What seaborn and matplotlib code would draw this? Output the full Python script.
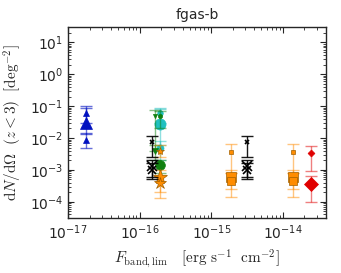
import numpy as np
import matplotlib
matplotlib.use("Agg")
import matplotlib.pyplot as plt
import seaborn as sns

sns.set_style("ticks")
plt.rcParams['font.family'] = ['DejaVu Sans']
plt.rcParams['mathtext.fontset'] = 'dejavusans'

blue_x = [1.8e-17, 1.8e-17, 1.8e-17]
blue_y = [0.06, 0.03, 0.009]
blue_lo = [0.03, 0.013, 0.005]
blue_hi = [0.1, 0.09, 0.014]
blue_s = [4, 8, 4]

cyan_x = [1.9e-16, 1.9e-16, 1.9e-16]
cyan_y = [0.06, 0.027, 0.005]
cyan_lo = [0.03, 0.006, 0.002]
cyan_hi = [0.09, 0.08, 0.008]
cyan_s = [4, 8, 5]

green_tri_x = [1.65e-16, 1.65e-16]
green_tri_y = [0.05, 0.004]
green_tri_lo = [0.004, 0.002]
green_tri_hi = [0.075, 0.006]
green_tri_s = [3, 4.5]

green_c_x = [1.9e-16, 1.9e-16]
green_c_y = [0.05, 0.0014]
green_c_lo = [0.02, 0.0008]
green_c_hi = [0.07, 0.002]
green_c_s = [3, 7]

star_x = [1.9e-16, 1.9e-16, 1.9e-16]
star_y = [0.004, 0.0006, 0.0004]
star_lo = [0.0025, 0.0002, 0.00013]
star_hi = [0.006, 0.001, 0.0007]
star_s = [6, 11, 9]

sq_x = [1.9e-15, 1.9e-15, 1.9e-15, 1.4e-14, 1.4e-14, 1.4e-14]
sq_y = [0.0037, 0.0006, 0.00045, 0.0037, 0.0006, 0.00045]
sq_lo = [0.0008, 0.00025, 0.00014, 0.0008, 0.00025, 0.00014]
sq_hi = [0.0065, 0.001, 0.0008, 0.0065, 0.001, 0.0008]
sq_s = [3.5, 7.5, 5.5, 3.5, 7.5, 5.5]

cross_x = [1.5e-16, 1.5e-16, 1.5e-16, 3.2e-15, 3.2e-15, 3.2e-15]
cross_y = [0.0075, 0.0013, 0.001, 0.0075, 0.0013, 0.001]
cross_lo = [0.0025, 0.0006, 0.0005, 0.0025, 0.0006, 0.0005]
cross_hi = [0.012, 0.002, 0.0017, 0.012, 0.002, 0.0017]
cross_s = [3, 7, 5.5, 3, 7, 5.5]

red_x = [2.5e-14, 2.5e-14]
red_y = [0.0033, 0.00037]
red_lo = [0.0009, 0.0001]
red_hi = [0.0055, 0.00065]
red_s = [3.5, 7.5]

series = [
    (blue_x, blue_y, blue_lo, blue_hi, blue_s, '^', '#0010c0', 0.6),
    (cyan_x, cyan_y, cyan_lo, cyan_hi, cyan_s, 'o', '#20c0c0', 0.5),
    (green_tri_x, green_tri_y, green_tri_lo, green_tri_hi, green_tri_s, 'v', '#108010', 0.5),
    (green_c_x, green_c_y, green_c_lo, green_c_hi, green_c_s, 'o', '#108010', 0.5),
    (star_x, star_y, star_lo, star_hi, star_s, '*', '#ff8c00', 0.5),
    (sq_x, sq_y, sq_lo, sq_hi, sq_s, 's', '#ff8c00', 0.5),
    (cross_x, cross_y, cross_lo, cross_hi, cross_s, 'x', 'black', 0.9),
    (red_x, red_y, red_lo, red_hi, red_s, 'D', '#e00000', 0.5),
]

fig, ax = plt.subplots(figsize=(3.41, 2.73), dpi=100)

for xs, ys, lo, hi, ss, mk, col, a in series:
    ys = np.array(ys)
    yerr = [ys - np.array(lo), np.array(hi) - ys]
    ax.errorbar(xs, ys, yerr=yerr, fmt='none', ecolor=col, alpha=a,
                elinewidth=1, capsize=4, capthick=1)
    for x, y, s in zip(xs, ys, ss):
        if mk == 'x':
            ax.plot(x, y, marker='x', ms=s, color='black', mew=1.2, ls='none')
        else:
            ax.plot(x, y, marker=mk, ms=s, color=col,
                    mec='#a06000' if mk in 's*' else col, mew=0.5, ls='none')

ax.set_xscale('log')
ax.set_yscale('log')
ax.set_xticks([1e-17, 1e-16, 1e-15, 1e-14])
ax.set_yticks([1e-4, 1e-3, 1e-2, 1e-1, 1e0, 1e1])
ax.set_xlim(1e-17, 4e-14)
ax.set_ylim(3e-5, 30)
ax.tick_params(which='both', direction='in', top=True, right=True, labelsize=10)
ax.tick_params(which='major', length=4)
ax.tick_params(which='minor', length=2)
for sp in ax.spines.values():
    sp.set_linewidth(1)

ax.set_title('fgas-b', fontsize=10)
ax.set_xlabel(r'$F_{\rm band,lim}\ \ \ [{\rm erg\ s^{-1}\ \ cm^{-2}}]$',
              math_fontfamily='cm', fontsize=11)
ax.set_ylabel(r'${\rm d}N/{\rm d}\Omega\ \ (z<3)\ \ [{\rm deg^{-2}}]$',
              math_fontfamily='cm', fontsize=11)

fig.subplots_adjust(left=0.2, right=0.956, top=0.9, bottom=0.2)
fig.savefig('out.png', dpi=100)
